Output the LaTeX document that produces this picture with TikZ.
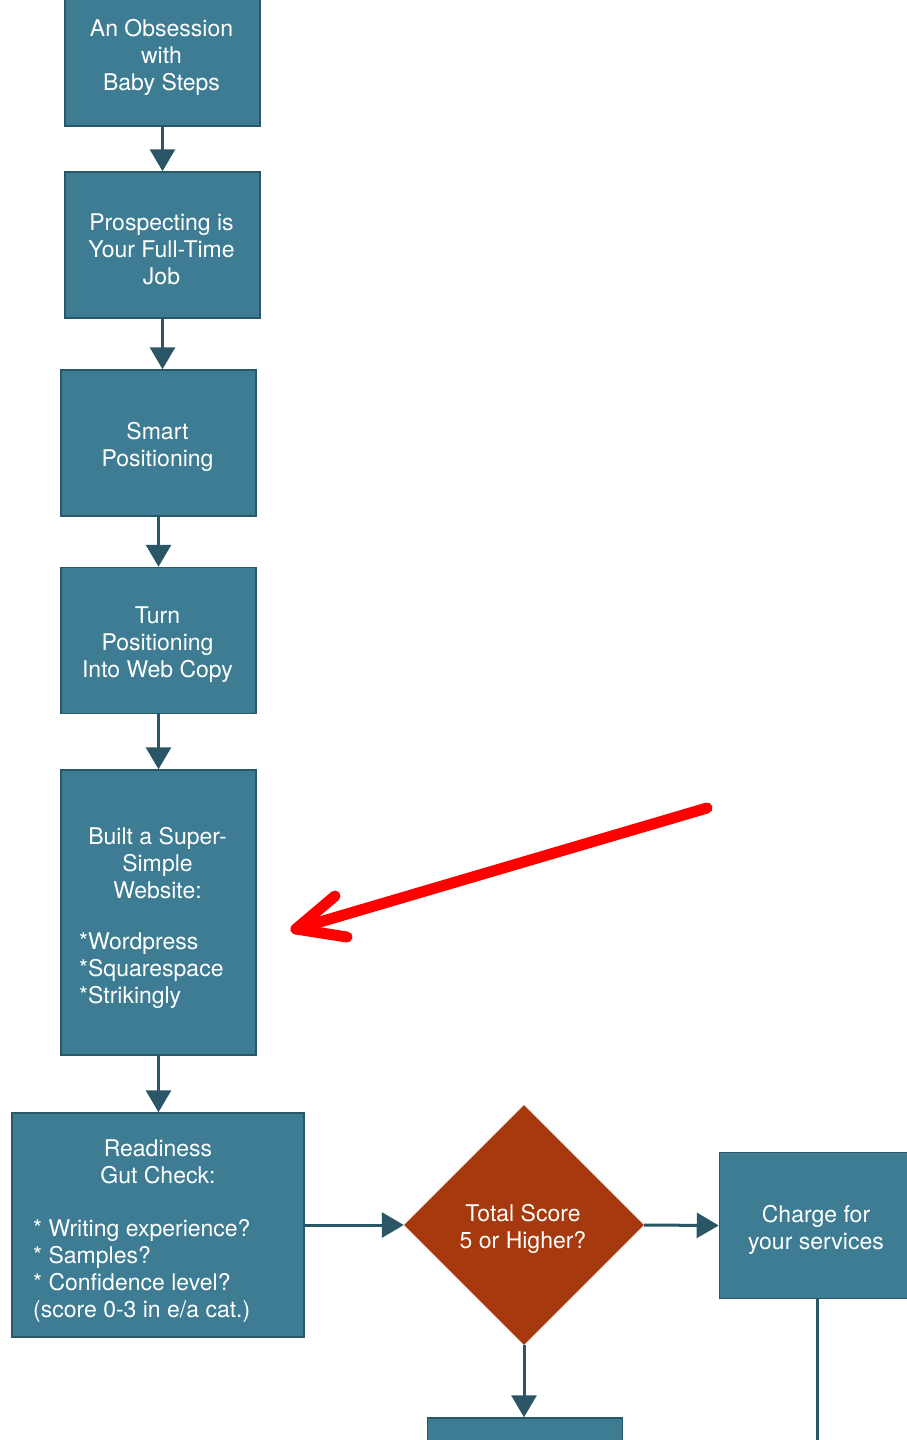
\documentclass[tikz,border=0pt]{standalone}
\usepackage{fontspec}
\setmainfont{TeX Gyre Heros}
\usetikzlibrary{arrows.meta,shapes.geometric}
\definecolor{boxfill}{HTML}{3E7C93}
\definecolor{boxline}{HTML}{2A5868}
\definecolor{linkc}{HTML}{2B5666}
\definecolor{decfill}{HTML}{A6390E}
\definecolor{markred}{HTML}{FF0000}
\begin{document}
\begin{tikzpicture}[x=1pt,y=-1pt,
  txt/.style={text=white, font=\fontsize{23}{27}\selectfont, inner sep=0pt},
  stepbox/.style={draw=boxline, line width=1.5pt, fill=boxfill,
    minimum width=195pt, minimum height=146pt, inner sep=0pt},
  decision/.style={diamond, aspect=1, fill=decfill, minimum width=240pt,
    minimum height=240pt, inner sep=0pt},
  ctext/.style={txt, align=center},
  ltext/.style={txt, align=left, anchor=west},
  link/.style={draw=linkc, line width=3pt, -{Triangle[width=25pt,length=22pt]}},
  plainlink/.style={draw=linkc, line width=3pt},
  marker/.style={draw=markred, line width=11pt, line cap=round, line join=round}]
\useasboundingbox (0,0) rectangle (907,1440);
\fill[white] (0,0) rectangle (907,1440);
\clip (0,0) rectangle (907,1440);

% main column of steps
\node[stepbox] (s1) at (162.5,53) {};
\node[ctext] (s1t) at (161.5,57) {An Obsession\\with\\Baby Steps};
\node[stepbox] (s2) at (162.5,245) {};
\node[ctext] (s2t) at (161.5,249) {Prospecting is\\Your Full-Time\\Job};
\node[stepbox] (s3) at (158.5,443) {};
\node[ctext] (s3t) at (157.5,447) {Smart\\Positioning};
\node[stepbox] (s4) at (158.5,640.5) {};
\node[ctext] (s4t) at (157.5,644.5) {Turn\\Positioning\\Into Web Copy};
\node[stepbox, minimum height=285pt] (s5) at (158.5,912.5) {};
\node[ctext] (s5head) at (157.5,863) {Built a Super-\\Simple\\Website:};
\node[ltext] (s5list) at (79,971) {*Wordpress\\*Squarespace\\*Strikingly};
\node[stepbox, minimum width=292pt, minimum height=224pt] (s6) at (158,1225) {};
\node[ctext] (s6head) at (158,1162) {Readiness\\Gut Check:};
\node[ltext] (s6list) at (33,1270.5)
  {* Writing experience?\\* Samples?\\* Confidence level?\\(score 0-3 in e/a cat.)};

% decision and branches
\node[decision] (d1) at (524,1225) {};
\node[ctext] (d1t) at (523,1229) {Total Score\\5 or Higher?};
\node[stepbox] (s7) at (817,1225.5) {};
\node[ctext] (s7t) at (816,1229.5) {Charge for\\your services};
\node[stepbox] (s8) at (525,1491) {};
\coordinate (s7out) at (817,1460);

% connectors
\draw[link] (s1.south) -- (s1.south |- s2.north);
\draw[link] (s2.south) -- (s2.south |- s3.north);
\draw[link] (s3.south) -- (s3.south |- s4.north);
\draw[link] (s4.south) -- (s4.south |- s5.north);
\draw[link] (s5.south) -- (s5.south |- s6.north);
\draw[link] (s6.east) -- (d1.west);
\draw[link] (d1.east) -- (s7.west);
\draw[link] (d1.south) -- (d1.south |- s8.north);
\draw[plainlink] (s7.south) -- (s7out);

% red pointer
\coordinate (pstart) at (707,808);
\coordinate (ptip) at (296,929);
\coordinate (pbarbA) at (335,896);
\coordinate (pbarbB) at (347,937);
\draw[marker] (pstart) -- (ptip);
\draw[marker] (pbarbA) -- (ptip) -- (pbarbB);
\end{tikzpicture}
\end{document}
